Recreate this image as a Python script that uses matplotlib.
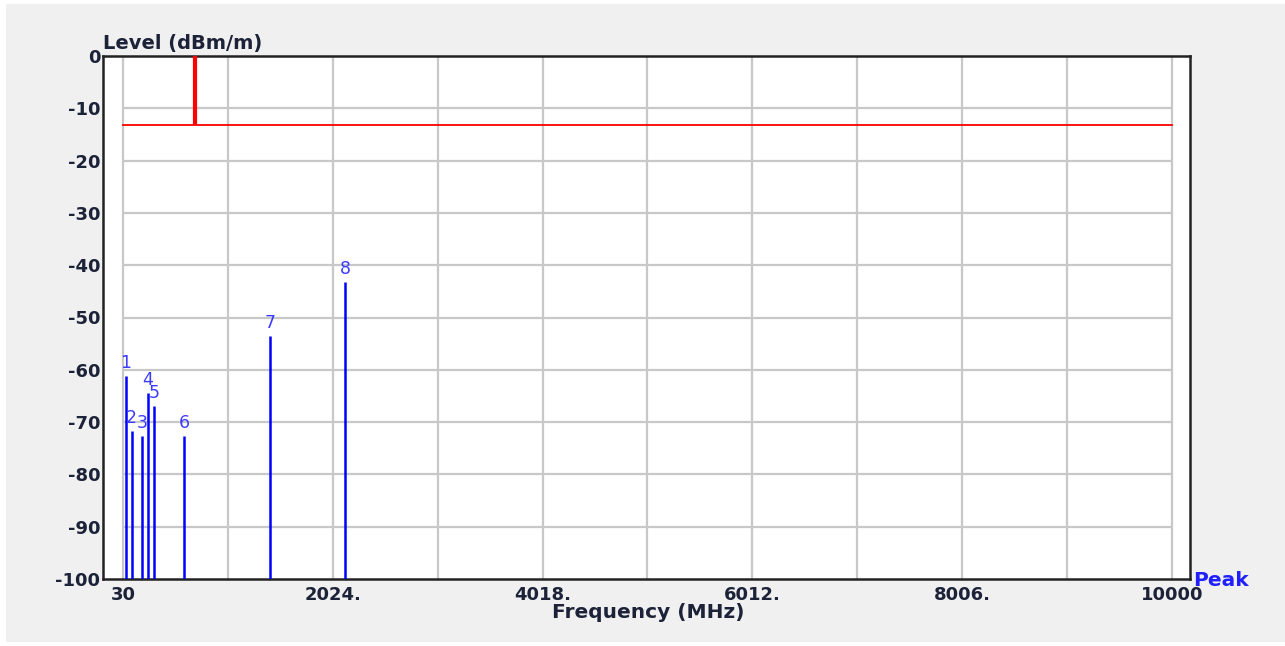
import matplotlib.pyplot as plt
from matplotlib.patches import Rectangle

# peak list
peak_ids = ["1", "2", "3", "4", "5", "6", "7", "8"]
peak_freq = [56, 113, 208, 265, 322, 610, 1430, 2143]
peak_level = [-61.2, -71.7, -72.6, -64.4, -66.9, -72.6, -53.5, -43.2]

# limit line and marker
limit_freq = [30, 10000]
limit_level = [-13.2, -13.2]
marker_freq = 714

x_grid = [30 + 997 * i for i in range(11)]
x_labels = ["30", "2024.", "4018.", "6012.", "8006.", "10000"]
y_ticks = [0, -10, -20, -30, -40, -50, -60, -70, -80, -90, -100]

plt.rcParams["font.family"] = ["DejaVu Sans"]
dark = "#1c2238"

fig = plt.figure(figsize=(12.85, 6.46), dpi=100)
fig.patch.set_facecolor("white")
fig.patches.append(Rectangle((6 / 1285, 4 / 646), 1279 / 1285, 638 / 646,
                             transform=fig.transFigure, facecolor="#f0f0f0",
                             edgecolor="none", zorder=-10))
ax = fig.add_axes([103 / 1285, 67 / 646, 1087 / 1285, 523 / 646])
ax.set_xlim(-160, 10171)
ax.set_ylim(-100, 0)

# grid
ax.vlines(x_grid, -100, 0, color="#c8c8c8", linewidth=1.6, zorder=1)
ax.hlines(y_ticks[1:-1], x_grid[0], x_grid[-1], color="#c8c8c8", linewidth=1.6, zorder=1)

# limit
ax.plot(limit_freq, limit_level, color="#ff0000", linewidth=1.3, zorder=3)
ax.vlines(marker_freq, limit_level[0], 0, color="#ff0000", linewidth=3, zorder=3)

# peaks
ax.vlines(peak_freq, -100, peak_level, color="#0000ff", linewidth=1.8, zorder=4)
for pid, f, lv in zip(peak_ids, peak_freq, peak_level):
    ax.text(f, lv + 0.7, pid, color="#3c3cff", fontsize=12.5, ha="center",
            va="bottom", zorder=5)

ax.set_xticks(x_grid[::2])
ax.set_xticklabels(x_labels)
ax.set_yticks(y_ticks)
ax.set_yticklabels([str(v) for v in y_ticks])
ax.tick_params(length=0, labelsize=13, labelcolor=dark)
ax.tick_params(axis="x", pad=5)
ax.tick_params(axis="y", pad=2)
for lbl in ax.get_xticklabels() + ax.get_yticklabels():
    lbl.set_fontweight("bold")

for s in ax.spines.values():
    s.set_linewidth(1.8)
    s.set_color("#222222")

fig.text(103 / 1285, 1 - 43 / 646, "Level (dBm/m)", fontsize=14, fontweight="bold",
         color=dark, ha="left", va="center")
fig.text(648 / 1285, 1 - 613 / 646, "Frequency (MHz)", fontsize=14.5, fontweight="bold",
         color=dark, ha="center", va="center")
fig.text(1193 / 1285, 1 - 581 / 646, "Peak", fontsize=14.5, fontweight="bold",
         color="#2020ff", ha="left", va="center")

plt.savefig("out.png", dpi=100)
